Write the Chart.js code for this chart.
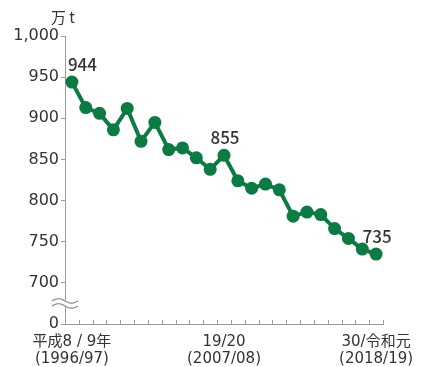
<!DOCTYPE html>
<html>
<head>
<meta charset="utf-8">
<script src="https://cdn.jsdelivr.net/npm/chart.js@4/dist/chart.umd.min.js"></script>
<style>
  html, body { margin: 0; padding: 0; background: #fff; }
  #wrap { width: 428px; height: 367px; position: relative; }
</style>
</head>
<body>
<div id="wrap"><canvas id="c" width="428" height="367"></canvas></div>
<script>
// Fiscal years (Heisei 8/9 = 1996/97 ... Reiwa 1 = 2018/19)
const years = [
  '1996/97','1997/98','1998/99','1999/00','2000/01','2001/02','2002/03','2003/04',
  '2004/05','2005/06','2006/07','2007/08','2008/09','2009/10','2010/11','2011/12',
  '2012/13','2013/14','2014/15','2015/16','2016/17','2017/18','2018/19'
];
// Consumption, 10,000 t
const values = [
  944, 913, 906, 886, 912, 872, 895, 862,
  864, 852, 838, 855, 824, 815, 820, 813,
  781, 786, 783, 766, 754, 741, 735
];
// Axis labels shown under the category axis
const xLabels = {
  0: ['平成8 / 9年', '(1996/97)'],
  11: ['19/20', '(2007/08)'],
  22: ['30/令和元', '(2018/19)']
};
// Values written beside their points
const labelled = [0, 11, 22];
const unit = '万 t';

const GREEN = '#0b7a43';
const AXIS = '#9a9a9a';
const TEXT = '#333333';
const FONT = '"DejaVu Sans", "Noto Sans CJK JP", sans-serif';
const LABEL_FONT = '"Noto Sans CJK JP", "Noto Sans", sans-serif';

const extras = {
  id: 'extras',
  afterDraw(chart) {
    const { ctx, chartArea, scales } = chart;
    const xs = scales.x, ys = scales.y;
    ctx.save();

    // short upward ticks at category boundaries
    ctx.strokeStyle = AXIS;
    ctx.lineWidth = 1;
    const n = years.length;
    for (let i = 1; i <= n; i++) {
      let x;
      if (i === n) x = chartArea.right;
      else x = (xs.getPixelForValue(i - 1) + xs.getPixelForValue(i)) / 2;
      x = Math.round(x) + 0.5;
      ctx.beginPath();
      ctx.moveTo(x, chartArea.bottom);
      ctx.lineTo(x, chartArea.bottom - 4);
      ctx.stroke();
    }

    // axis break between 0 and 700
    const yb = ys.getPixelForValue(675);
    const x0 = xs.left - 13, x1 = xs.left + 13;
    const wave = (dy) => {
      ctx.beginPath();
      for (let x = x0; x <= x1; x += 0.5) {
        const t = (x - x0) / (x1 - x0);
        const y = yb + dy - 2.2 * Math.sin(t * Math.PI * 2);
        if (x === x0) ctx.moveTo(x, y); else ctx.lineTo(x, y);
      }
    };
    ctx.fillStyle = '#fff';
    ctx.fillRect(xs.left - 3, yb - 3, 6, 6);
    ctx.strokeStyle = '#8a8a8a';
    ctx.lineWidth = 1.2;
    wave(-2.5); ctx.stroke();
    wave(2.5); ctx.stroke();

    // unit caption
    ctx.fillStyle = TEXT;
    ctx.font = '15px ' + LABEL_FONT;
    ctx.textAlign = 'center';
    ctx.textBaseline = 'middle';
    ctx.fillText(unit, 63, 17);

    // value labels
    ctx.font = '500 17px ' + LABEL_FONT;
    const meta = chart.getDatasetMeta(0);
    labelled.forEach((i) => {
      const pt = meta.data[i];
      if (i === 0) {
        ctx.textAlign = 'left';
        ctx.fillText(String(values[i]), pt.x - 4, pt.y - 18);
      } else {
        ctx.textAlign = 'center';
        ctx.fillText(String(values[i]), pt.x + 1, pt.y - 18);
      }
    });
    ctx.restore();
  }
};

new Chart(document.getElementById('c'), {
  type: 'line',
  data: {
    labels: years,
    datasets: [{
      data: values,
      borderColor: GREEN,
      backgroundColor: GREEN,
      borderWidth: 4,
      pointRadius: 6.5,
      pointBackgroundColor: GREEN,
      pointBorderColor: GREEN,
      pointBorderWidth: 0,
      tension: 0
    }]
  },
  options: {
    responsive: false,
    animation: false,
    events: [],
    layout: { padding: { top: 36, right: 45, left: 0, bottom: 0 } },
    plugins: { legend: { display: false }, tooltip: { enabled: false } },
    scales: {
      x: {
        type: 'category',
        offset: true,
        grid: { display: false, drawTicks: false },
        border: { color: AXIS, width: 1 },
        afterFit(s) { s.height = 43; },
        ticks: {
          autoSkip: false,
          maxRotation: 0,
          padding: 10,
          color: TEXT,
          font: { family: FONT, size: 15, lineHeight: 1.1 },
          callback: (v, i) => xLabels[i] || ''
        }
      },
      y: {
        min: 650,
        max: 1000,
        afterFit(s) { s.width = 65; },
        afterBuildTicks(s) {
          s.ticks = [650, 700, 750, 800, 850, 900, 950, 1000].map(v => ({ value: v }));
        },
        grid: { drawOnChartArea: false, color: AXIS, tickLength: 4 },
        border: { color: AXIS, width: 1 },
        ticks: {
          padding: 2,
          color: TEXT,
          font: { family: FONT, size: 16 },
          callback: (v) => v === 650 ? '0' : (v >= 1000 ? v.toLocaleString('en-US') : String(v))
        }
      }
    }
  },
  plugins: [extras]
});
</script>
</body>
</html>
